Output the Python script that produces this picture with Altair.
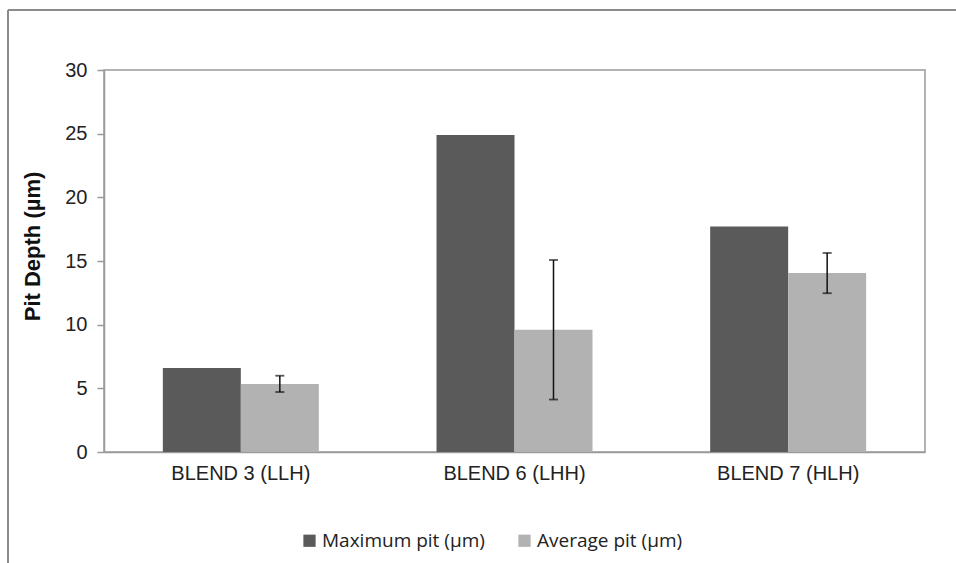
import altair as alt
import pandas as pd

# Pit depth measurements per blend
categories = ["BLEND 3 (LLH)", "BLEND 6 (LHH)", "BLEND 7 (HLH)"]
series_names = ["Maximum pit (µm)", "Average pit (µm)"]
max_pit = [6.6, 24.9, 17.7]
avg_pit = [5.35, 9.6, 14.05]
avg_err = [0.64, 5.48, 1.58]

rows = []
for c, m, a, e in zip(categories, max_pit, avg_pit, avg_err):
    rows.append({"blend": c, "series": series_names[0], "depth": m})
    rows.append({"blend": c, "series": series_names[1], "depth": a,
                 "lo": a - e, "hi": a + e})
df = pd.DataFrame(rows)
err_df = df[df["series"] == series_names[1]]

W, H = 821, 382
LEFT, TOP = 104, 70
GRAY_AX = "#9a9a9a"

x_enc = alt.X("blend:N", sort=categories, title=None,
              scale=alt.Scale(paddingInner=0.43, paddingOuter=0.215),
              axis=alt.Axis(labelAngle=0, ticks=False, labelPadding=11,
                            labelFontSize=20, labelColor="#222",
                            labelFont="Liberation Sans", domainColor=GRAY_AX,
                            domainWidth=1.5))
xoff = alt.XOffset("series:N", sort=series_names,
                   scale=alt.Scale(paddingInner=0, paddingOuter=0))

bars = alt.Chart(df).mark_bar(stroke=None).encode(
    x=x_enc,
    xOffset=xoff,
    y=alt.Y("depth:Q", title="Pit Depth  (µm)",
            scale=alt.Scale(domain=[0, 30], nice=False),
            axis=alt.Axis(values=[0, 5, 10, 15, 20, 25, 30], grid=False,
                          tickSize=7, tickColor=GRAY_AX, tickWidth=1.5,
                          labelFontSize=20, labelColor="#222",
                          labelFont="Liberation Sans", labelPadding=10,
                          domainColor=GRAY_AX, domainWidth=1.5,
                          titleFontSize=22, titleFont="Liberation Sans",
                          titleFontWeight="bold", titleColor="#111",
                          titlePadding=20, titleY=176)),
    color=alt.Color("series:N", sort=series_names,
                    scale=alt.Scale(domain=series_names,
                                    range=["#5a5a5a", "#b2b2b2"]),
                    legend=alt.Legend(title=None, orient="none",
                                      direction="horizontal",
                                      legendX=196, legendY=461,
                                      symbolType="square", symbolSize=150,
                                      symbolStrokeWidth=0,
                                      labelFontSize=19, labelFont="Open Sans",
                                      labelColor="#222", labelOffset=3,
                                      labelLimit=400,
                                      columnPadding=30, padding=0)),
)

err_rule = alt.Chart(err_df).mark_rule(color="#111", strokeWidth=1.5).encode(
    x=alt.X("blend:N", sort=categories),
    xOffset=xoff,
    y="lo:Q",
    y2="hi:Q",
)
cap_lo = alt.Chart(err_df).mark_tick(color="#111", orient="horizontal",
                                     size=9, thickness=1.8).encode(
    x=alt.X("blend:N", sort=categories), xOffset=xoff, y="lo:Q")
cap_hi = alt.Chart(err_df).mark_tick(color="#111", orient="horizontal",
                                     size=9, thickness=1.8).encode(
    x=alt.X("blend:N", sort=categories), xOffset=xoff, y="hi:Q")

# Outer frame around the whole figure (top and left edges)
frame_top = alt.Chart(pd.DataFrame({"k": [0]})).mark_rule(
    color="#8c8c8c", strokeWidth=2).encode(
    x=alt.value(8 - LEFT), x2=alt.value(956 - LEFT), y=alt.value(10 - TOP))
frame_left = alt.Chart(pd.DataFrame({"k": [0]})).mark_rule(
    color="#8c8c8c", strokeWidth=2).encode(
    x=alt.value(8 - LEFT), y=alt.value(10 - TOP), y2=alt.value(563 - TOP))

chart = alt.layer(bars, err_rule, cap_lo, cap_hi, frame_top, frame_left).properties(
    width=W, height=H,
    padding={"left": LEFT, "top": TOP, "right": 956 - LEFT - W, "bottom": 563 - TOP - H},
    autosize=alt.AutoSizeParams(type="none"),
    background="white",
).configure_view(stroke=GRAY_AX, strokeWidth=1.5)

chart.save("out.html", embed_options={"renderer": "svg", "actions": False})
